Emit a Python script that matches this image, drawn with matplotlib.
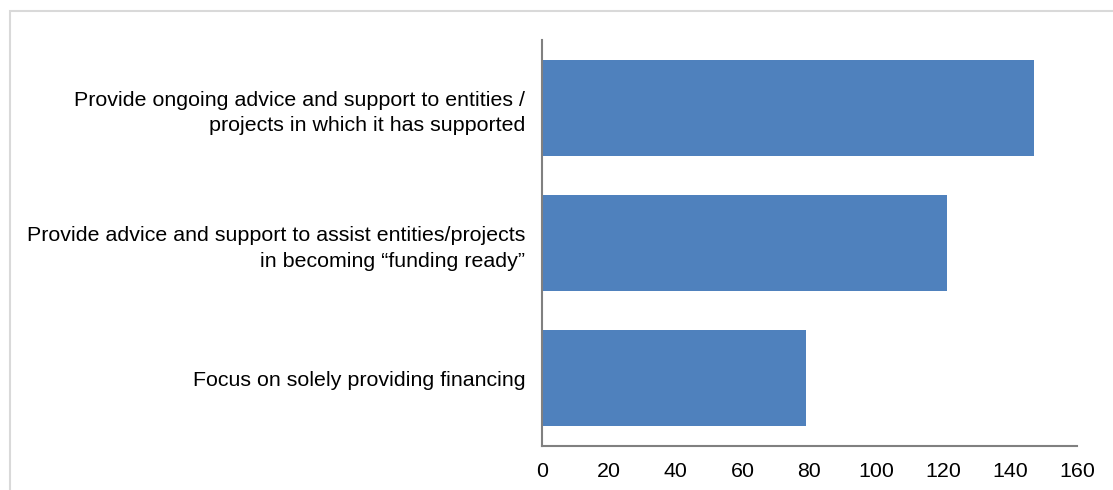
import matplotlib
matplotlib.use('Agg')
import matplotlib.pyplot as plt
from matplotlib.patches import Rectangle

# data
categories = [
    'Provide ongoing advice and support to entities /\nprojects in which it has supported',
    'Provide advice and support to assist entities/projects\nin becoming \u201cfunding ready\u201d',
    'Focus on solely providing financing',
]
values = [147, 121, 79]
x_ticks = [0, 20, 40, 60, 80, 100, 120, 140, 160]

plt.rcParams['font.family'] = ['Liberation Sans', 'DejaVu Sans']

fig = plt.figure(figsize=(11.13, 4.90), dpi=100)

# light grey frame around the chart area
fig.patches.append(Rectangle((10 / 1113, -0.01), 1.0, 1 - 11 / 490 + 0.01,
                             transform=fig.transFigure, fill=False,
                             edgecolor='#d9d9d9', linewidth=1.5))

ax = fig.add_axes([542 / 1113, 1 - 446 / 490, (1077 - 542) / 1113, (446 - 40) / 490])

y = list(range(len(categories)))
ax.barh(y, values, height=0.71, color='#4f81bd')
ax.set_ylim(len(categories) - 0.5, -0.5)
ax.set_xlim(0, 160)
ax.set_xticks(x_ticks)
ax.set_yticks(y)
ax.set_yticklabels(categories, fontsize=15.4, linespacing=1.45)
ax.tick_params(axis='x', labelsize=15.4, length=0, pad=11.5)
ax.tick_params(axis='y', length=0, pad=12)

for side in ['top', 'right']:
    ax.spines[side].set_visible(False)
for side in ['left', 'bottom']:
    ax.spines[side].set_color('#808080')
    ax.spines[side].set_linewidth(1.5)

fig.savefig('out.png', dpi=100)
